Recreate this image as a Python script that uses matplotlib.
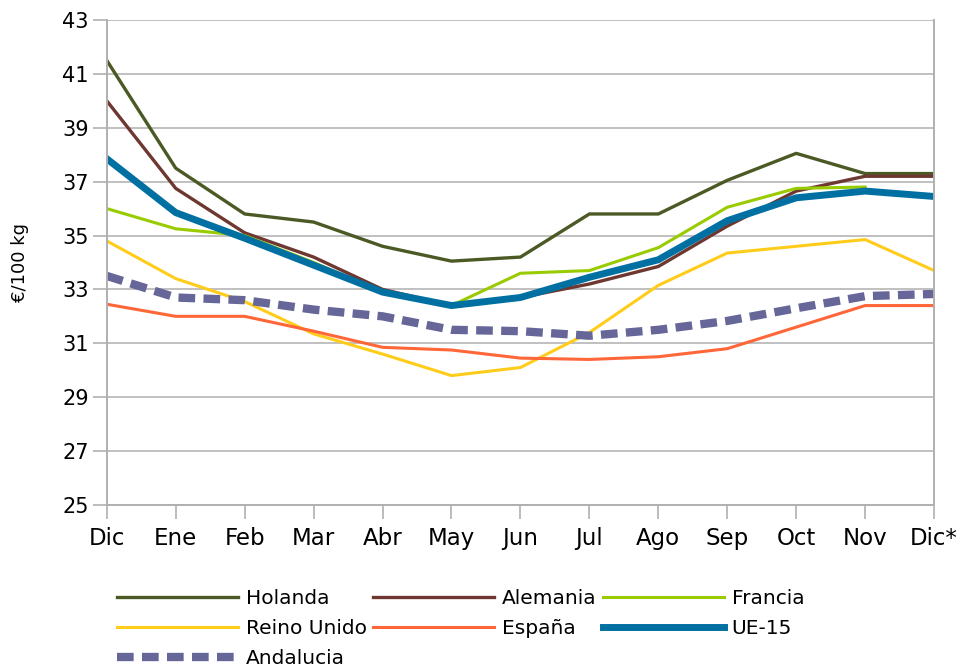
import numpy as np
import matplotlib
matplotlib.use("Agg")
import matplotlib.pyplot as plt

plt.rcParams['font.family'] = ['DejaVu Sans']

# data
meses = ["Dic", "Ene", "Feb", "Mar", "Abr", "May", "Jun", "Jul", "Ago", "Sep", "Oct", "Nov", "Dic*"]

holanda = [41.5, 37.5, 35.8, 35.5, 34.6, 34.05, 34.2, 35.8, 35.8, 37.05, 38.05, 37.3, 37.3]
alemania = [40.0, 36.75, 35.1, 34.2, 33.0, 32.4, 32.7, 33.2, 33.85, 35.35, 36.65, 37.2, 37.2]
francia = [36.0, 35.25, 35.0, 34.0, 32.9, 32.4, 33.6, 33.7, 34.55, 36.05, 36.75, 36.8, np.nan]
reino_unido = [34.8, 33.4, 32.55, 31.35, 30.6, 29.8, 30.1, 31.4, 33.15, 34.35, 34.6, 34.85, 33.7]
espana = [32.45, 32.0, 32.0, 31.45, 30.85, 30.75, 30.45, 30.4, 30.5, 30.8, 31.6, 32.4, 32.4]
ue15 = [37.85, 35.85, 34.9, 33.9, 32.9, 32.4, 32.7, 33.45, 34.1, 35.55, 36.4, 36.65, 36.45]
andalucia = [33.5, 32.7, 32.6, 32.25, 32.0, 31.5, 31.45, 31.28, 31.5, 31.83, 32.3, 32.75, 32.83]

x = np.arange(len(meses))

fig = plt.figure(figsize=(9.62, 6.67), dpi=100)
ax = fig.add_axes([0.111, 0.243, 0.86, 0.727])

h_hol, = ax.plot(x, holanda, color="#4b5a24", lw=2.4, label="Holanda")
h_ale, = ax.plot(x, alemania, color="#6e3830", lw=2.4, label="Alemania")
h_fra, = ax.plot(x, francia, color="#99cc00", lw=2.2, label="Francia")
h_ru, = ax.plot(x, reino_unido, color="#ffcc1a", lw=2.2, label="Reino Unido")
h_esp, = ax.plot(x, espana, color="#ff6638", lw=2.2, label="España")
h_ue, = ax.plot(x, ue15, color="#0070a3", lw=5, label="UE-15")
h_and, = ax.plot(x, andalucia, color="#666699", lw=6, ls=(0, (2, 1)),
                 dash_capstyle="butt", label="Andalucia")

ax.set_xlim(0, len(meses) - 1)
ax.set_ylim(25, 43)
ax.set_yticks(np.arange(25, 44, 2))
ax.set_xticks(x)
ax.set_xticklabels(meses, fontsize=16.5)
ax.tick_params(axis="y", labelsize=15, length=10, width=1.2, color="#b0b0b0", pad=3)
ax.tick_params(axis="x", length=10, width=1.2, color="#b0b0b0", pad=6)
ax.yaxis.grid(True, color="#c0c0c0", lw=1.4)
ax.set_axisbelow(True)
for s in ["left", "bottom", "right"]:
    ax.spines[s].set_color("#b0b0b0")
    ax.spines[s].set_linewidth(1.4)
ax.spines["top"].set_visible(False)
ax.set_ylabel("€/100 kg", fontsize=13, labelpad=24)

# legend is filled by rows in the original, matplotlib fills by columns
handles = [h_hol, h_ru, h_and, h_ale, h_esp, h_fra, h_ue]
fig.legend(handles=handles, labels=[h.get_label() for h in handles],
           ncol=3, loc="lower left", bbox_to_anchor=(0.103, -0.029),
           frameon=False, fontsize=14.5, handlelength=6.0, handletextpad=0.4,
           columnspacing=0.3, labelspacing=0.55)

fig.savefig("out.png", dpi=100)
